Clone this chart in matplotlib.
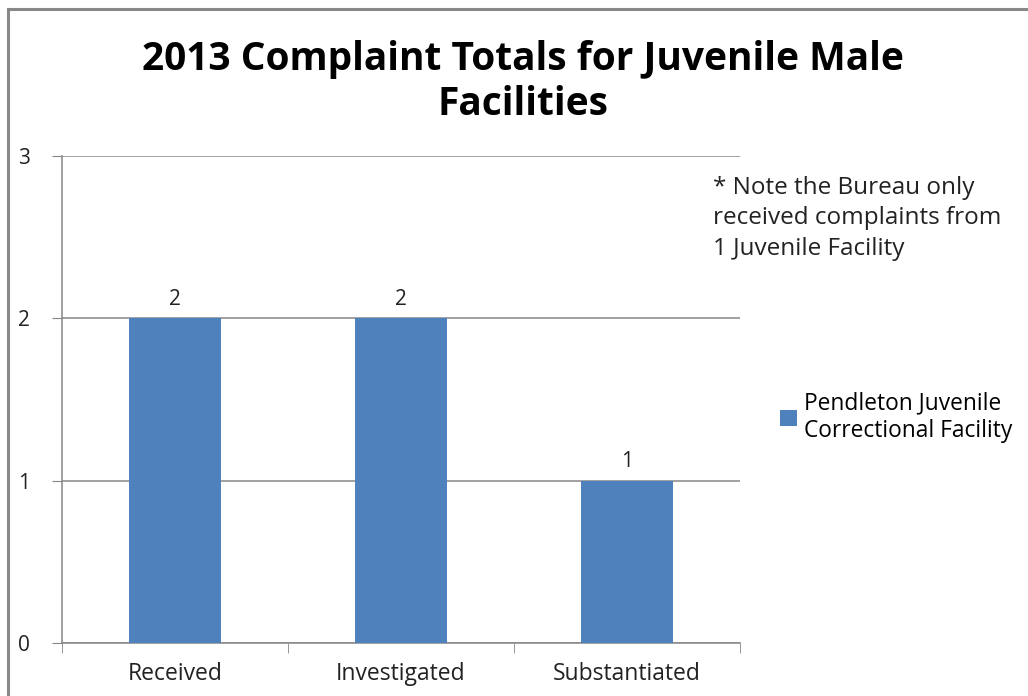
import matplotlib
matplotlib.use("Agg")
import matplotlib.pyplot as plt
from matplotlib.patches import Rectangle

categories = ["Received", "Investigated", "Substantiated"]
values = [2, 2, 1]
series_name = "Pendleton Juvenile\nCorrectional Facility"
title = "2013 Complaint Totals for Juvenile Male\nFacilities"
note = "* Note the Bureau only\nreceived complaints from\n1 Juvenile Facility"
y_ticks = [0, 1, 2, 3]

FONT = ["Open Sans", "DejaVu Sans"]
BAR = "#4F81BD"
GRID = "#868686"
TEXT = "#222222"

fig = plt.figure(figsize=(10.28, 6.96), dpi=100)
fig.patch.set_facecolor("white")

# chart-area border (runs off the right and bottom edges)
fig.patches.append(Rectangle((8 / 1028, -0.1), 1.2, 1 - 9 / 696 + 0.1,
                             transform=fig.transFigure, fill=False,
                             edgecolor="#888888", linewidth=2.2))

ax = fig.add_axes([62 / 1028, 1 - 643 / 696, (740 - 62) / 1028, (643 - 156) / 696])
x = list(range(len(categories)))
bars = ax.bar(x, values, width=0.405, color=BAR, label=series_name, zorder=3)

ax.set_xlim(-0.5, len(categories) - 0.5)
ax.set_ylim(0, 3)
ax.set_yticks(y_ticks)
ax.set_yticklabels([str(t) for t in y_ticks], fontsize=15, family=FONT)
ax.set_xticks(x)
ax.set_xticklabels(categories, fontsize=16.5, family=FONT, color=TEXT)
ax.tick_params(axis="x", length=0, pad=14)
ax.tick_params(axis="y", length=7, color=GRID, pad=16, labelcolor=TEXT)
# category boundary ticks below the x axis
ax.set_xticks([i - 0.5 for i in range(len(categories) + 1)], minor=True)
ax.tick_params(axis="x", which="minor", length=7, color=GRID, direction="out")

ax.yaxis.grid(True, color=GRID, linewidth=1.1, zorder=0)
for s in ["top", "right"]:
    ax.spines[s].set_visible(False)
for s in ["left", "bottom"]:
    ax.spines[s].set_color(GRID)
    ax.spines[s].set_linewidth(1.1)

for b, v in zip(bars, values):
    ax.annotate(str(v), (b.get_x() + b.get_width() / 2, v), xytext=(0, 6),
                textcoords="offset points", ha="center", va="bottom",
                fontsize=15, family=FONT, color=TEXT)

fig.text(523 / 1028, 1 - 82 / 696, title, ha="center", va="center",
         fontsize=28, fontweight="bold", family=FONT, linespacing=1.2,
         color="black")

fig.text(713 / 1028, 1 - 176 / 696, note, ha="left", va="top",
         fontsize=17.5, family=FONT, linespacing=1.35, color=TEXT)

leg = fig.legend(handles=[bars], labels=[series_name],
                 loc="upper left", bbox_to_anchor=(780 / 1028, 1 - 391 / 696),
                 frameon=False, prop={"family": FONT, "size": 16.4},
                 handlelength=0.75, handleheight=0.75, handletextpad=0.3,
                 labelspacing=0.5, borderaxespad=0, borderpad=0)

fig.savefig("out.png", dpi=100, facecolor="white")
